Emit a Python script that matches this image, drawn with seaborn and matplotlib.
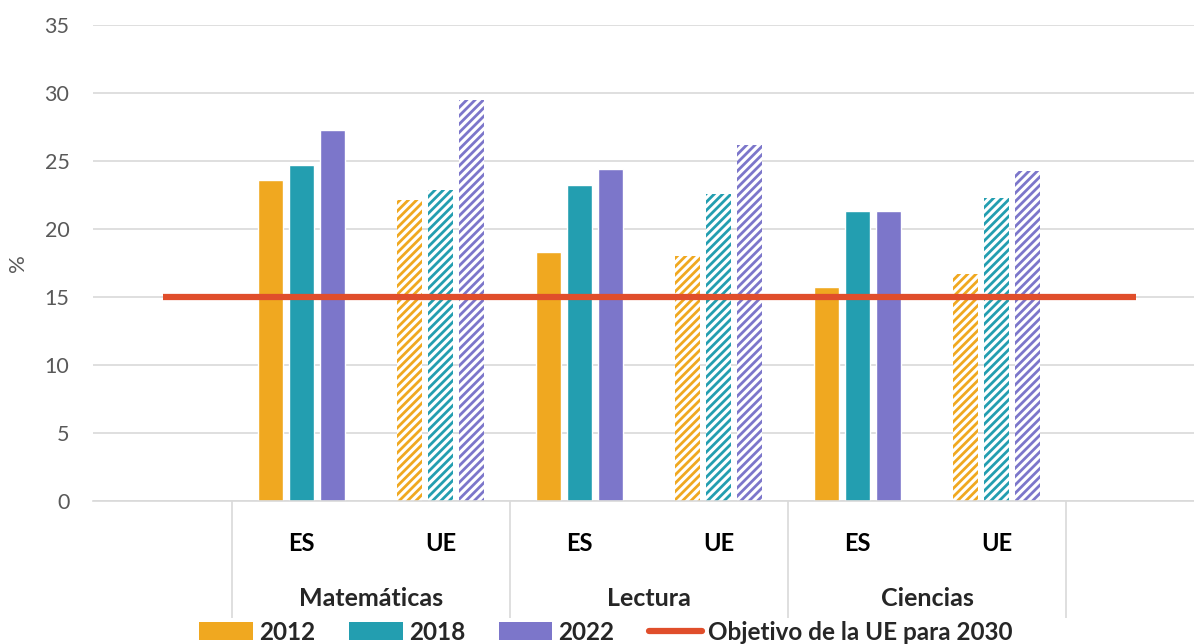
import numpy as np
import pandas as pd
import matplotlib.pyplot as plt
import matplotlib.transforms as mtransforms
from matplotlib.patches import Patch
from matplotlib.lines import Line2D
import seaborn as sns

# ==================== DATOS ====================
materias = ['Matemáticas', 'Lectura', 'Ciencias']
zonas = ['ES', 'UE']
anios = ['2012', '2018', '2022']

# orden: Mat ES, Mat UE, Lect ES, Lect UE, Cien ES, Cien UE
v2012 = [23.6, 22.1, 18.3, 18.0, 15.7, 16.7]
v2018 = [24.7, 22.9, 23.2, 22.6, 21.3, 22.3]
v2022 = [27.3, 29.5, 24.4, 26.2, 21.3, 24.3]
objetivo = 15
etiqueta_objetivo = 'Objetivo de la UE para 2030'

colores = ['#F0A820', '#239EB0', '#7C76CA']
color_obj = '#E04E2B'
gris = '#595959'
gris_linea = '#D9D9D9'

grupos = [f'{m} {z}' for m in materias for z in zonas]
df = pd.DataFrame({
    'grupo': grupos * 3,
    'zona': zonas * len(materias) * 3,
    'anio': np.repeat(anios, len(grupos)),
    'valor': v2012 + v2018 + v2022,
})

# ==================== FIGURA ====================
sns.set_theme(style='white')
plt.rcParams['font.family'] = ['Lato', 'DejaVu Sans']
plt.rcParams['hatch.linewidth'] = 2.0

fig = plt.figure(figsize=(11.94, 6.44), dpi=100)
ax = fig.add_axes([93 / 1194, 143 / 644, 1112 / 1194, 476 / 644])

sns.barplot(data=df, x='grupo', y='valor', hue='anio', order=grupos,
            hue_order=anios, palette=colores, saturation=1,
            width=0.663, gap=0.2, legend=False, ax=ax)

# barras UE con rayado
for cont, col in zip(ax.containers, colores):
    for bar, grupo in zip(cont, grupos):
        if grupo.endswith('UE'):
            bar.set_facecolor('white')
            bar.set_edgecolor(col)
            bar.set_hatch('////')
            bar.set_linewidth(0)

ax.set_xlim(-1.5, len(grupos) + 0.5)
ax.set_ylim(0, 35)
ax.set_yticks(range(0, 36, 5))

# línea objetivo
ax.plot([-1, len(grupos)], [objetivo, objetivo], color=color_obj,
        linewidth=4.5, solid_capstyle='butt', zorder=5)

ax.grid(axis='y', color=gris_linea, linewidth=1.2)
ax.set_axisbelow(True)
for s in ['top', 'right', 'left']:
    ax.spines[s].set_visible(False)
ax.spines['bottom'].set_color(gris_linea)
ax.spines['bottom'].set_linewidth(1.2)

ax.tick_params(axis='y', length=0, labelsize=15.5, labelcolor=gris, pad=17)
ax.tick_params(axis='x', length=0, pad=22)
ax.set_xticks(range(len(grupos)))
ax.set_xticklabels([g.split()[-1] for g in grupos], fontsize=17,
                   fontweight='bold', color='black')
ax.set_xlabel('')
ax.set_ylabel('%', fontsize=16, color=gris, labelpad=12)

# separadores y nombres de materia
trans = mtransforms.blended_transform_factory(ax.transData, ax.transAxes)
sep = [-0.5 + 2 * i for i in range(len(materias) + 1)]
ax.vlines(sep, 0, -0.245, transform=trans, colors=gris_linea,
          linewidth=1.2, clip_on=False)
for i, m in enumerate(materias):
    ax.text(2 * i + 0.5, -0.204, m, transform=trans, ha='center',
            va='center', fontsize=18, fontweight='bold')

# leyenda
handles = [Patch(facecolor=c, edgecolor='none') for c in colores]
handles.append(Line2D([], [], color=color_obj, linewidth=4.5))
fig.legend(handles, anios + [etiqueta_objetivo], loc='center', ncol=4,
           bbox_to_anchor=(606 / 1194, 1 - 632 / 644), frameon=False,
           prop={'size': 17.5, 'weight': 'bold'}, handlelength=2.2,
           handleheight=0.75, handletextpad=0.25, columnspacing=1.4,
           borderpad=0)

plt.savefig('out.png', dpi=100)
